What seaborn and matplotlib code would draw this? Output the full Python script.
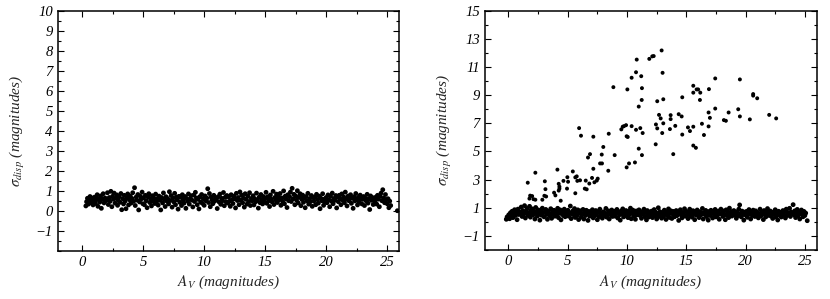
import numpy as np
import pandas as pd
import matplotlib
matplotlib.use("Agg")
import matplotlib.pyplot as plt
import seaborn as sns
from matplotlib.ticker import MultipleLocator

# --- left panel: dispersion band only ---
left_av = [
    0.31, 0.37, 0.44, 0.52, 0.58, 0.65, 0.71, 0.78, 0.84, 0.9, 0.96,
    1.03, 1.1, 1.16, 1.24, 1.3, 1.37, 1.45, 1.52, 1.58, 1.66, 1.73, 1.8, 1.88, 1.94,
    2.02, 2.08, 2.15, 2.23, 2.3, 2.36, 2.44, 2.5, 2.57, 2.63, 2.7, 2.78, 2.85, 2.91, 2.97,
    3.05, 3.12, 3.18, 3.25, 3.33, 3.4, 3.46, 3.53, 3.6, 3.68, 3.74, 3.81, 3.88, 3.95,
    4.02, 4.09, 4.15, 4.22, 4.3, 4.36, 4.43, 4.5, 4.57, 4.64, 4.71, 4.78, 4.85, 4.92, 4.98,
    5.04, 5.11, 5.19, 5.26, 5.33, 5.4, 5.47, 5.55, 5.62, 5.69, 5.76, 5.83, 5.9, 5.97,
    6.03, 6.1, 6.17, 6.24, 6.31, 6.38, 6.45, 6.52, 6.6, 6.67, 6.74, 6.81, 6.88, 6.95,
    7.02, 7.09, 7.16, 7.23, 7.3, 7.38, 7.45, 7.52, 7.59, 7.66, 7.73, 7.8, 7.87, 7.94,
    8.01, 8.08, 8.15, 8.22, 8.29, 8.36, 8.44, 8.51, 8.58, 8.65, 8.72, 8.79, 8.86, 8.94,
    9.01, 9.08, 9.15, 9.22, 9.29, 9.37, 9.44, 9.51, 9.58, 9.65, 9.72, 9.8, 9.87, 9.94,
    10.01, 10.08, 10.15, 10.23, 10.3, 10.37, 10.44, 10.51, 10.58, 10.65, 10.72, 10.8, 10.87, 10.94,
    11.01, 11.08, 11.16, 11.23, 11.3, 11.37, 11.44, 11.51, 11.59, 11.66, 11.73, 11.8, 11.87, 11.94,
    12.01, 12.08, 12.15, 12.22, 12.3, 12.37, 12.44, 12.51, 12.58, 12.65, 12.73, 12.8, 12.87, 12.94,
    13.01, 13.08, 13.16, 13.23, 13.3, 13.37, 13.44, 13.52, 13.59, 13.66, 13.73, 13.8, 13.88, 13.95,
    14.02, 14.09, 14.16, 14.23, 14.3, 14.38, 14.45, 14.52, 14.59, 14.66, 14.73, 14.8, 14.87, 14.94,
    15.01, 15.08, 15.15, 15.23, 15.3, 15.37, 15.44, 15.51, 15.58, 15.66, 15.73, 15.8, 15.87, 15.94,
    16.01, 16.09, 16.16, 16.23, 16.3, 16.37, 16.44, 16.52, 16.59, 16.66, 16.73, 16.8, 16.87, 16.94,
    17.01, 17.08, 17.15, 17.22, 17.3, 17.37, 17.44, 17.51, 17.58, 17.65, 17.72, 17.8, 17.87, 17.94,
    18.01, 18.08, 18.15, 18.22, 18.29, 18.37, 18.44, 18.51, 18.58, 18.65, 18.72, 18.8, 18.87, 18.94,
    19.01, 19.08, 19.15, 19.22, 19.3, 19.37, 19.44, 19.51, 19.58, 19.65, 19.72, 19.8, 19.87, 19.94,
    20.01, 20.08, 20.16, 20.23, 20.3, 20.37, 20.44, 20.51, 20.58, 20.65, 20.72, 20.8, 20.87, 20.94,
    21.01, 21.08, 21.15, 21.22, 21.29, 21.37, 21.44, 21.51, 21.58, 21.65, 21.72, 21.8, 21.87, 21.94,
    22.01, 22.08, 22.15, 22.22, 22.3, 22.37, 22.44, 22.51, 22.58, 22.65, 22.72, 22.8, 22.87, 22.94,
    23.01, 23.08, 23.15, 23.22, 23.3, 23.37, 23.44, 23.51, 23.58, 23.65, 23.72, 23.8, 23.87, 23.94,
    24.01, 24.08, 24.15, 24.22, 24.29, 24.37, 24.44, 24.51, 24.58, 24.65, 24.72, 24.8, 24.87, 24.94,
    25.01, 25.08, 25.15, 25.22, 25.3, 25.85,
]
left_sigma = [
    0.24, 0.45, 0.62, 0.33, 0.56, 0.71, 0.4, 0.52, 0.63, 0.29, 0.47,
    0.68, 0.36, 0.54, 0.8, 0.22, 0.6, 0.43, 0.74, 0.12, 0.57, 0.85, 0.39, 0.64, 0.5,
    0.55, 0.9, 0.31, 0.66, 0.47, 0.97, 0.2, 0.72, 0.58, 0.88, 0.38, 0.62, 0.79, 0.27, 0.51,
    0.7, 0.42, 0.86, 0.05, 0.6, 0.34, 0.77, 0.48, 0.1, 0.65, 0.84, 0.29, 0.55, 0.73,
    0.38, 0.61, 0.9, 0.47, 1.15, 0.26, 0.68, 0.53, 0.81, 0.04, 0.44, 0.72, 0.59, 0.93, 0.35,
    0.64, 0.3, 0.77, 0.5, 0.15, 0.69, 0.85, 0.41, 0.58, 0.24, 0.75, 0.47, 0.62, 0.36,
    0.83, 0.45, 0.6, 0.28, 0.73, 0.52, 0.04, 0.66, 0.39, 0.89, 0.56, 0.21, 0.7, 0.48,
    0.6, 0.34, 0.95, 0.51, 0.76, 0.18, 0.63, 0.44, 0.87, 0.3, 0.68, 0.55, 0.08, 0.72,
    0.42, 0.67, 0.26, 0.8, 0.55, 0.38, 0.71, 0.12, 0.61, 0.49, 0.84, 0.33, 0.58, 0.75,
    0.53, 0.19, 0.78, 0.46, 0.92, 0.64, 0.3, 0.57, 0.09, 0.7, 0.43, 0.81, 0.37, 0.6,
    0.27, 0.74, 0.5, 0.63, 1.1, 0.41, 0.86, 0.2, 0.68, 0.55, 0.35, 0.77, 0.48, 0.65,
    0.58, 0.11, 0.7, 0.44, 0.83, 0.32, 0.62, 0.5, 0.91, 0.25, 0.67, 0.45, 0.76, 0.38,
    0.69, 0.47, 0.22, 0.8, 0.56, 0.36, 0.73, 0.6, 0.14, 0.87, 0.51, 0.66, 0.3, 0.94,
    0.52, 0.78, 0.4, 0.63, 0.18, 0.85, 0.57, 0.33, 0.72, 0.46, 0.9, 0.26, 0.61, 0.5,
    0.75, 0.29, 0.6, 0.45, 0.88, 0.53, 0.13, 0.68, 0.4, 0.81, 0.56, 0.34, 0.71, 0.48,
    0.62, 0.92, 0.37, 0.7, 0.5, 0.21, 0.79, 0.58, 0.44, 0.97, 0.31, 0.66, 0.54, 0.83,
    0.41, 0.69, 0.55, 0.86, 0.27, 0.64, 0.47, 0.99, 0.35, 0.73, 0.59, 0.16, 0.8, 0.5,
    0.7, 0.93, 0.46, 1.12, 0.6, 0.82, 0.3, 0.74, 0.53, 1.0, 0.39, 0.67, 0.85, 0.25,
    0.57, 0.78, 0.42, 0.64, 0.15, 0.71, 0.5, 0.87, 0.33, 0.6, 0.45, 0.76, 0.22, 0.66,
    0.48, 0.69, 0.3, 0.82, 0.56, 0.38, 0.73, 0.1, 0.62, 0.5, 0.85, 0.27, 0.58, 0.44,
    0.66, 0.4, 0.79, 0.55, 0.2, 0.72, 0.48, 0.88, 0.35, 0.61, 0.52, 0.76, 0.14, 0.68,
    0.45, 0.77, 0.6, 0.3, 0.84, 0.53, 0.69, 0.4, 0.93, 0.58, 0.24, 0.73, 0.5, 0.64,
    0.8, 0.37, 0.62, 0.12, 0.7, 0.49, 0.86, 0.55, 0.29, 0.67, 0.44, 0.78, 0.59, 0.34,
    0.57, 0.71, 0.26, 0.63, 0.48, 0.82, 0.38, 0.6, 0.06, 0.74, 0.52, 0.66, 0.31, 0.55,
    0.46, 0.68, 0.33, 0.77, 0.58, 0.2, 0.72, 0.88, 0.5, 1.05, 0.63, 0.4, 0.81, 0.55,
    0.35, 0.6, 0.15, 0.48, 0.26, 0.0,
]

# --- right panel: band plus the rising branch ---
right_av = [
    -0.18, -0.11, -0.04,
    0.03, 0.1, 0.17, 0.24, 0.31, 0.38, 0.45, 0.52, 0.59, 0.66, 0.73, 0.8, 0.87, 0.94,
    1.01, 1.08, 1.15, 1.22, 1.29, 1.36, 1.43, 1.5, 1.57, 1.64, 1.71, 1.78, 1.85, 1.92, 1.98,
    2.02, 2.09, 2.16, 2.23, 2.3, 2.37, 2.44, 2.51, 2.58, 2.65, 2.72, 2.79, 2.86, 2.93,
    3.01, 3.08, 3.15, 3.22, 3.29, 3.36, 3.43, 3.5, 3.57, 3.64, 3.71, 3.78, 3.85, 3.92,
    4.01, 4.08, 4.15, 4.22, 4.29, 4.36, 4.43, 4.5, 4.57, 4.64, 4.71, 4.78, 4.85, 4.92,
    5.01, 5.08, 5.15, 5.22, 5.29, 5.36, 5.43, 5.5, 5.57, 5.64, 5.71, 5.78, 5.85, 5.92,
    6.01, 6.08, 6.15, 6.22, 6.29, 6.36, 6.43, 6.5, 6.57, 6.64, 6.71, 6.78, 6.85, 6.92,
    7.01, 7.08, 7.15, 7.22, 7.29, 7.36, 7.43, 7.5, 7.57, 7.64, 7.71, 7.78, 7.85, 7.92,
    8.01, 8.08, 8.15, 8.22, 8.29, 8.36, 8.43, 8.5, 8.57, 8.64, 8.71, 8.78, 8.85, 8.92,
    9.01, 9.08, 9.15, 9.22, 9.29, 9.36, 9.43, 9.5, 9.57, 9.64, 9.71, 9.78, 9.85, 9.92,
    10.01, 10.08, 10.15, 10.22, 10.29, 10.36, 10.43, 10.5, 10.57, 10.64, 10.71, 10.78, 10.85, 10.92,
    11.01, 11.08, 11.15, 11.22, 11.29, 11.36, 11.43, 11.5, 11.57, 11.64, 11.71, 11.78, 11.85, 11.92,
    12.01, 12.08, 12.15, 12.22, 12.29, 12.36, 12.43, 12.5, 12.57, 12.64, 12.71, 12.78, 12.85, 12.92,
    13.01, 13.08, 13.15, 13.22, 13.29, 13.36, 13.43, 13.5, 13.57, 13.64, 13.71, 13.78, 13.85, 13.92,
    14.01, 14.08, 14.15, 14.22, 14.29, 14.36, 14.43, 14.5, 14.57, 14.64, 14.71, 14.78, 14.85, 14.92,
    15.01, 15.08, 15.15, 15.22, 15.29, 15.36, 15.43, 15.5, 15.57, 15.64, 15.71, 15.78, 15.85, 15.92,
    16.01, 16.08, 16.15, 16.22, 16.29, 16.36, 16.43, 16.5, 16.57, 16.64, 16.71, 16.78, 16.85, 16.92,
    17.01, 17.08, 17.15, 17.22, 17.29, 17.36, 17.43, 17.5, 17.57, 17.64, 17.71, 17.78, 17.85, 17.92,
    18.01, 18.08, 18.15, 18.22, 18.29, 18.36, 18.43, 18.5, 18.57, 18.64, 18.71, 18.78, 18.85, 18.92,
    19.01, 19.08, 19.15, 19.22, 19.29, 19.36, 19.43, 19.5, 19.57, 19.64, 19.71, 19.78, 19.85, 19.92,
    20.01, 20.08, 20.15, 20.22, 20.29, 20.36, 20.43, 20.5, 20.57, 20.64, 20.71, 20.78, 20.85, 20.92,
    21.01, 21.08, 21.15, 21.22, 21.29, 21.36, 21.43, 21.5, 21.57, 21.64, 21.71, 21.78, 21.85, 21.92,
    22.01, 22.08, 22.15, 22.22, 22.29, 22.36, 22.43, 22.5, 22.57, 22.64, 22.71, 22.78, 22.85, 22.92,
    23.01, 23.08, 23.15, 23.22, 23.29, 23.36, 23.43, 23.5, 23.57, 23.64, 23.71, 23.78, 23.85, 23.92,
    24.01, 24.08, 24.15, 24.22, 24.29, 24.36, 24.43, 24.5, 24.57, 24.64, 24.71, 24.78, 24.85, 24.92,
    25.0, 25.07, 25.2,
]
right_sigma = [
    0.18, 0.35, 0.28,
    0.5, 0.22, 0.64, 0.41, 0.75, 0.3, 0.58, 0.86, 0.45, 0.68, 0.15, 0.9, 0.52, 0.7,
    0.62, 1.05, 0.38, 0.8, 0.55, 1.15, 0.27, 0.72, 0.95, 0.46, 0.66, 1.1, 0.33, 0.84, 0.58,
    0.92, 0.5, 0.74, 0.2, 1.02, 0.63, 0.41, 0.85, 0.55, 0.12, 0.78, 0.47, 0.97, 0.66,
    0.35, 0.7, 0.88, 0.52, 0.18, 0.76, 0.6, 0.42, 0.93, 0.25, 0.67, 0.53, 0.82, 0.4,
    0.73, 0.48, 0.96, 0.3, 0.62, 0.85, 0.14, 0.57, 0.71, 0.44, 0.9, 0.36, 0.65, 0.54,
    0.82, 0.4, 0.66, 1.12, 0.23, 0.58, 0.77, 0.5, 0.94, 0.31, 0.7, 0.45, 0.85, 0.16,
    0.6, 0.78, 0.34, 0.53, 0.88, 0.2, 0.69, 0.45, 0.82, 0.57, 0.1, 0.74, 0.4, 0.63,
    0.5, 0.86, 0.28, 0.67, 0.44, 0.8, 0.58, 0.15, 0.72, 0.37, 0.9, 0.52, 0.64, 0.26,
    0.71, 0.43, 0.6, 0.95, 0.33, 0.55, 0.78, 0.2, 0.66, 0.48, 0.84, 0.38, 0.58, 0.75,
    0.4, 0.63, 0.88, 0.27, 0.7, 0.5, 0.12, 0.76, 0.56, 0.92, 0.35, 0.68, 0.45, 0.8,
    0.58, 0.3, 0.74, 0.52, 0.97, 0.22, 0.65, 0.83, 0.42, 0.6, 0.18, 0.77, 0.5, 0.69,
    0.85, 0.46, 0.62, 0.25, 0.73, 0.55, 0.9, 0.37, 0.66, 0.14, 0.8, 0.51, 0.34, 0.7,
    0.48, 0.76, 0.3, 0.6, 0.87, 0.43, 0.68, 0.2, 0.55, 1.0, 0.39, 0.72, 0.58, 0.26,
    0.65, 0.4, 0.83, 0.53, 0.17, 0.7, 0.46, 0.92, 0.31, 0.6, 0.78, 0.24, 0.56, 0.74,
    0.36, 0.62, 0.8, 0.44, 0.71, 0.1, 0.58, 0.86, 0.49, 0.28, 0.67, 0.52, 0.93, 0.4,
    0.74, 0.5, 0.23, 0.68, 0.9, 0.42, 0.61, 0.33, 0.79, 0.55, 0.15, 0.71, 0.47, 0.84,
    0.57, 0.3, 0.72, 0.48, 0.63, 0.95, 0.2, 0.66, 0.52, 0.81, 0.37, 0.6, 0.12, 0.73,
    0.45, 0.82, 0.6, 0.27, 0.7, 0.52, 0.88, 0.35, 0.64, 0.47, 0.76, 0.18, 0.58, 0.9,
    0.62, 0.38, 0.77, 0.54, 0.15, 0.85, 0.46, 0.68, 0.3, 0.97, 0.56, 0.73, 0.41, 0.6,
    0.8, 0.5, 0.66, 0.25, 0.72, 0.44, 0.9, 1.2, 0.58, 0.35, 0.76, 0.52, 0.12, 0.69,
    0.48, 0.74, 0.32, 0.6, 0.87, 0.55, 0.2, 0.7, 0.45, 0.83, 0.62, 0.38, 0.78, 0.53,
    0.66, 0.28, 0.55, 0.9, 0.42, 0.72, 0.6, 0.16, 0.8, 0.5, 0.35, 0.68, 0.94, 0.46,
    0.58, 0.77, 0.4, 0.63, 0.24, 0.7, 0.52, 0.86, 0.36, 0.6, 0.13, 0.75, 0.48, 0.67,
    0.34, 0.62, 0.8, 0.5, 0.72, 0.27, 0.9, 0.45, 0.66, 0.55, 0.96, 0.38, 0.7, 0.58,
    1.22, 0.5, 0.78, 0.3, 0.65, 0.88, 0.44, 0.7, 0.2, 0.6, 0.84, 0.52, 0.36, 0.74,
    0.45, 0.62, 0.08,
]

branch_av = [
    12.92, 12.13, 12.25, 11.88, 10.82, 13.0, 10.76, 10.39, 11.2, 8.85, 10.03, 11.26,
    11.24, 10.99, 13.06, 12.55, 17.44, 19.52, 16.91, 15.59, 15.87, 16.0, 15.59, 16.18,
    16.15, 14.66, 20.64, 20.64, 20.98, 17.44, 16.88, 16.99, 18.57, 19.38, 19.52, 18.17,
    18.34, 20.36, 21.99, 22.58, 16.88, 16.32, 16.49, 15.59, 15.31, 15.14, 15.59, 15.81,
    14.61, 14.36, 14.66, 14.07, 13.68, 13.68, 13.62, 13.9, 12.7, 12.84, 13.06, 12.97,
    12.44, 12.55, 12.42, 10.76, 11.12, 11.32, 10.99, 11.26, 10.39, 9.97, 10.06, 9.92,
    9.75, 9.64, 9.52, 8.46, 7.16, 5.96, 6.12, 8.0, 6.88, 6.71, 7.87, 8.96, 7.73, 7.89,
    7.16, 8.42, 9.97, 10.17, 10.67, 7.05, 7.53, 7.45, 7.25, 6.82, 6.52, 6.44, 6.6,
    6.04, 5.81, 5.76, 5.64, 5.43, 5.64, 4.97, 4.94, 4.64, 5.03, 4.13, 4.24, 4.3, 4.3,
    4.24, 3.85, 3.96, 4.41, 3.07, 3.12, 3.03, 3.18, 2.86, 2.27, 1.63, 1.83, 2.0, 2.11,
    1.77, 2.27,
]
branch_sigma = [
    12.18, 11.76, 11.78, 11.58, 11.53, 10.59, 10.63, 10.24, 10.35, 9.57, 9.41, 9.5,
    8.66, 8.19, 8.71, 8.57, 10.19, 10.12, 9.43, 9.67, 9.41, 9.41, 9.18, 9.18,
    8.66, 8.85, 9.08, 8.97, 8.78, 8.05, 7.77, 7.39, 7.77, 8.0, 7.49, 7.23,
    7.18, 7.28, 7.6, 7.35, 6.78, 6.97, 6.17, 6.76, 6.45, 6.71, 5.42, 5.26,
    7.49, 7.65, 6.2, 6.82, 7.3, 7.58, 6.59, 4.81, 7.6, 7.35, 7.0, 6.31,
    6.92, 6.64, 5.51, 6.54, 6.66, 6.31, 5.2, 4.74, 6.8, 6.08, 6.03, 6.87,
    6.8, 6.76, 6.57, 6.26, 6.05, 6.66, 6.12, 5.32, 4.81, 4.57, 4.78, 4.74, 4.15, 4.15,
    3.77, 3.63, 3.87, 4.15, 4.22, 3.12, 3.07, 2.93, 2.81, 2.72, 2.93, 2.36, 2.31,
    2.95, 2.91, 3.23, 3.16, 3.58, 2.03, 3.17, 2.36, 2.91, 2.85, 3.71, 2.7, 2.5, 2.36,
    2.22, 2.07, 1.88, 1.5, 2.88, 2.32, 1.85, 1.8, 1.57, 3.49, 2.78, 1.86, 1.83, 1.61,
    1.65, 1.57,
]

left_df = pd.DataFrame({"av": left_av, "sigma": left_sigma})
band_df = pd.DataFrame({"av": right_av, "sigma": right_sigma})
branch_df = pd.DataFrame({"av": branch_av, "sigma": branch_sigma})

sns.set_style("ticks")
plt.rcParams["font.family"] = ["Liberation Serif", "DejaVu Serif"]
plt.rcParams["mathtext.fontset"] = "stix"

fig = plt.figure(figsize=(8.3, 2.99), dpi=100)
ax1 = fig.add_axes([0.0695, 0.1615, 0.4115, 0.8025])
ax2 = fig.add_axes([0.584, 0.164, 0.400, 0.800])

# dense band -> slightly bigger dots so it fills in like the scan
sns.scatterplot(data=left_df, x="av", y="sigma", ax=ax1, color="black",
                s=12, edgecolor="none", linewidth=0, legend=False)
sns.scatterplot(data=band_df, x="av", y="sigma", ax=ax2, color="black",
                s=12, edgecolor="none", linewidth=0, legend=False)
sns.scatterplot(data=branch_df, x="av", y="sigma", ax=ax2, color="black",
                s=8, edgecolor="none", linewidth=0, legend=False)

for ax in (ax1, ax2):
    ax.set_xlim(-2, 26)
    ax.tick_params(which="both", direction="in", top=True, right=True,
                   labelsize=10.5, width=0.8, colors="black")
    ax.tick_params(which="major", length=4)
    ax.tick_params(which="minor", length=2)
    for sp in ax.spines.values():
        sp.set_linewidth(1.1)
        sp.set_color("black")
    ax.set_xlabel(r"$A_V$ (magnitudes)", fontstyle="italic", fontsize=11, labelpad=4)
    ax.set_ylabel(r"$\sigma_{disp}$ (magnitudes)", fontstyle="italic", fontsize=11, labelpad=6)

ax1.set_ylim(-2, 10)
ax1.set_yticks(range(-1, 11))
ax1.yaxis.set_minor_locator(MultipleLocator(0.5))

ax2.set_ylim(-2, 15)
ax2.set_yticks(range(-1, 16, 2))
ax2.yaxis.set_minor_locator(MultipleLocator(1))

for ax in (ax1, ax2):
    ax.set_xticks([0, 5, 10, 15, 20, 25])
    ax.xaxis.set_minor_locator(MultipleLocator(2.5))
    for lab in ax.get_xticklabels() + ax.get_yticklabels():
        lab.set_fontstyle("italic")

fig.savefig("out.png", dpi=100)
